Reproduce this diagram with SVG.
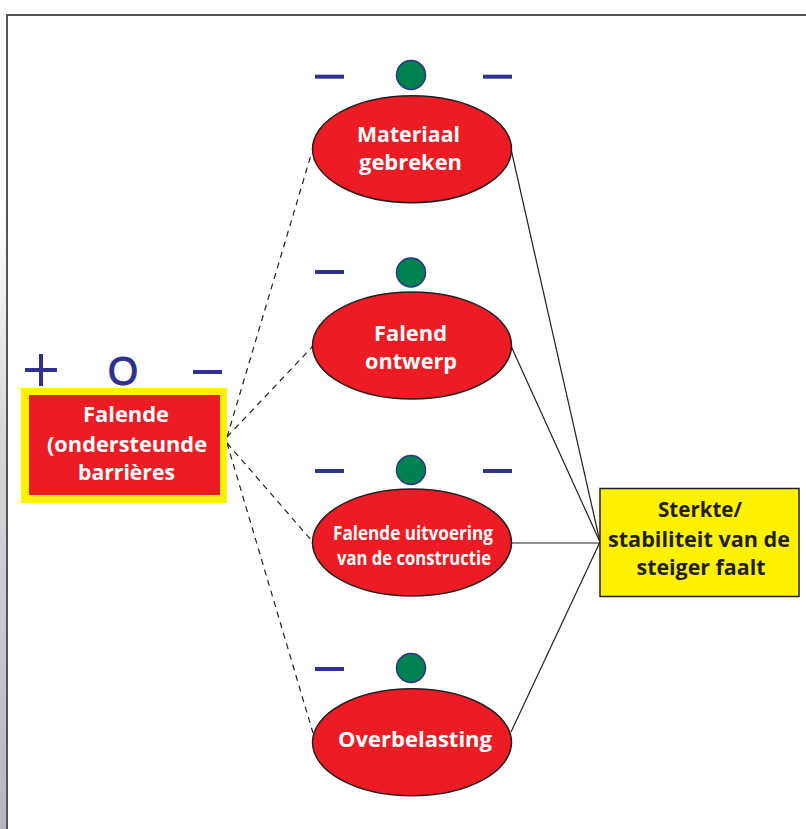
<svg xmlns="http://www.w3.org/2000/svg" width="806" height="829" viewBox="0 0 806 829">
<defs>
<linearGradient id="edge" x1="0" y1="0" x2="0" y2="1">
<stop offset="0" stop-color="#ffffff"/>
<stop offset="0.4" stop-color="#d4d6da"/>
<stop offset="1" stop-color="#b4b8be"/>
</linearGradient>
</defs>
<style>
.ell{fill:#ed1c24;stroke:#231f20;stroke-width:1.5}
.dot{fill:#008150;stroke:#2e3192;stroke-width:1.5}
.bar{fill:#2e3192}
.wt{font-family:"Open Sans","Liberation Sans",sans-serif;font-weight:700;fill:#ffffff}
.bt{font-family:"Open Sans","Liberation Sans",sans-serif;font-weight:700;fill:#231f20}
.solid{stroke:#231f20;stroke-width:1.2;fill:none}
.dash{stroke:#231f20;stroke-width:1.2;fill:none;stroke-dasharray:6 5}
</style>
<rect width="806" height="829" fill="#ffffff"/>
<rect x="0" y="200" width="6" height="629" fill="url(#edge)"/>
<path d="M7 829 V15 H806" fill="none" stroke="#555555" stroke-width="2"/>

<g id="connectors">
<line class="dash" x1="227" y1="437" x2="311" y2="155"/>
<line class="dash" x1="227" y1="437" x2="313" y2="346"/>
<line class="dash" x1="227" y1="443" x2="312" y2="541"/>
<line class="dash" x1="227" y1="443" x2="313" y2="733"/>
<line class="solid" x1="511" y1="149" x2="600" y2="542"/>
<line class="solid" x1="511" y1="346" x2="600" y2="542"/>
<line class="solid" x1="512" y1="543" x2="600" y2="543"/>
<line class="solid" x1="511" y1="732" x2="600" y2="542"/>
</g>

<g id="ratings-left">
<rect class="bar" x="25" y="368" width="32" height="4"/>
<rect class="bar" x="39" y="354" width="4" height="32"/>
<text x="108" y="385" font-family="Liberation Sans,Arial,sans-serif" font-weight="400" font-size="41" fill="#2e3192" stroke="#2e3192" stroke-width="1.2" textLength="30" lengthAdjust="spacingAndGlyphs">O</text>
<rect class="bar" x="193" y="370" width="29" height="4"/>
</g>

<g id="node-falende-barrieres">
<rect x="21" y="388" width="206" height="115" fill="#fff200"/>
<rect x="29" y="395" width="191" height="100" fill="#ed1c24"/>
<text class="wt" x="83" y="422.3" font-size="22" textLength="86" lengthAdjust="spacingAndGlyphs">Falende</text>
<text class="wt" x="47" y="451.7" font-size="22" textLength="160" lengthAdjust="spacingAndGlyphs">(ondersteunde</text>
<text class="wt" x="78" y="480" font-size="22" textLength="97" lengthAdjust="spacingAndGlyphs">barrières</text>
</g>

<g id="node-materiaal">
<rect class="bar" x="315" y="74.7" width="29" height="4"/>
<circle class="dot" cx="411" cy="75" r="14.5"/>
<rect class="bar" x="483" y="74.7" width="29" height="4"/>
<ellipse class="ell" cx="412" cy="149.2" rx="99.5" ry="53.5"/>
<text class="wt" x="357" y="141.7" font-size="22" textLength="103" lengthAdjust="spacingAndGlyphs">Materiaal</text>
<text class="wt" x="359" y="170" font-size="22" textLength="103" lengthAdjust="spacingAndGlyphs">gebreken</text>
</g>

<g id="node-ontwerp">
<rect class="bar" x="315" y="270" width="29" height="4"/>
<circle class="dot" cx="411" cy="272.5" r="14.5"/>
<ellipse class="ell" cx="412" cy="345.5" rx="99.5" ry="53.5"/>
<text class="wt" x="374" y="340.7" font-size="22" textLength="73" lengthAdjust="spacingAndGlyphs">Falend</text>
<text class="wt" x="365" y="369.3" font-size="22" textLength="92" lengthAdjust="spacingAndGlyphs">ontwerp</text>
</g>

<g id="node-uitvoering">
<rect class="bar" x="315" y="469" width="29" height="4"/>
<circle class="dot" cx="411" cy="470" r="14.5"/>
<rect class="bar" x="483" y="469" width="29" height="4"/>
<ellipse class="ell" cx="412" cy="542.5" rx="99.5" ry="53.5"/>
<text class="wt" x="333" y="540" font-size="19.5" textLength="160" lengthAdjust="spacingAndGlyphs">Falende uitvoering</text>
<text class="wt" x="337" y="565" font-size="19.5" textLength="154" lengthAdjust="spacingAndGlyphs">van de constructie</text>
</g>

<g id="node-overbelasting">
<rect class="bar" x="315" y="667" width="29" height="4"/>
<circle class="dot" cx="411" cy="668" r="14.5"/>
<ellipse class="ell" cx="412" cy="742.3" rx="99.5" ry="53.5"/>
<text class="wt" x="338" y="747" font-size="22" textLength="154" lengthAdjust="spacingAndGlyphs">Overbelasting</text>
</g>

<g id="node-sterkte">
<rect x="600" y="488.5" width="199" height="108" fill="#fff200" stroke="#231f20" stroke-width="1.5"/>
<text class="bt" x="658" y="517.3" font-size="22" textLength="84" lengthAdjust="spacingAndGlyphs">Sterkte/</text>
<text class="bt" x="608" y="546.7" font-size="22" textLength="182" lengthAdjust="spacingAndGlyphs">stabiliteit van de</text>
<text class="bt" x="636.5" y="575" font-size="22" textLength="129" lengthAdjust="spacingAndGlyphs">steiger faalt</text>
</g>
</svg>
